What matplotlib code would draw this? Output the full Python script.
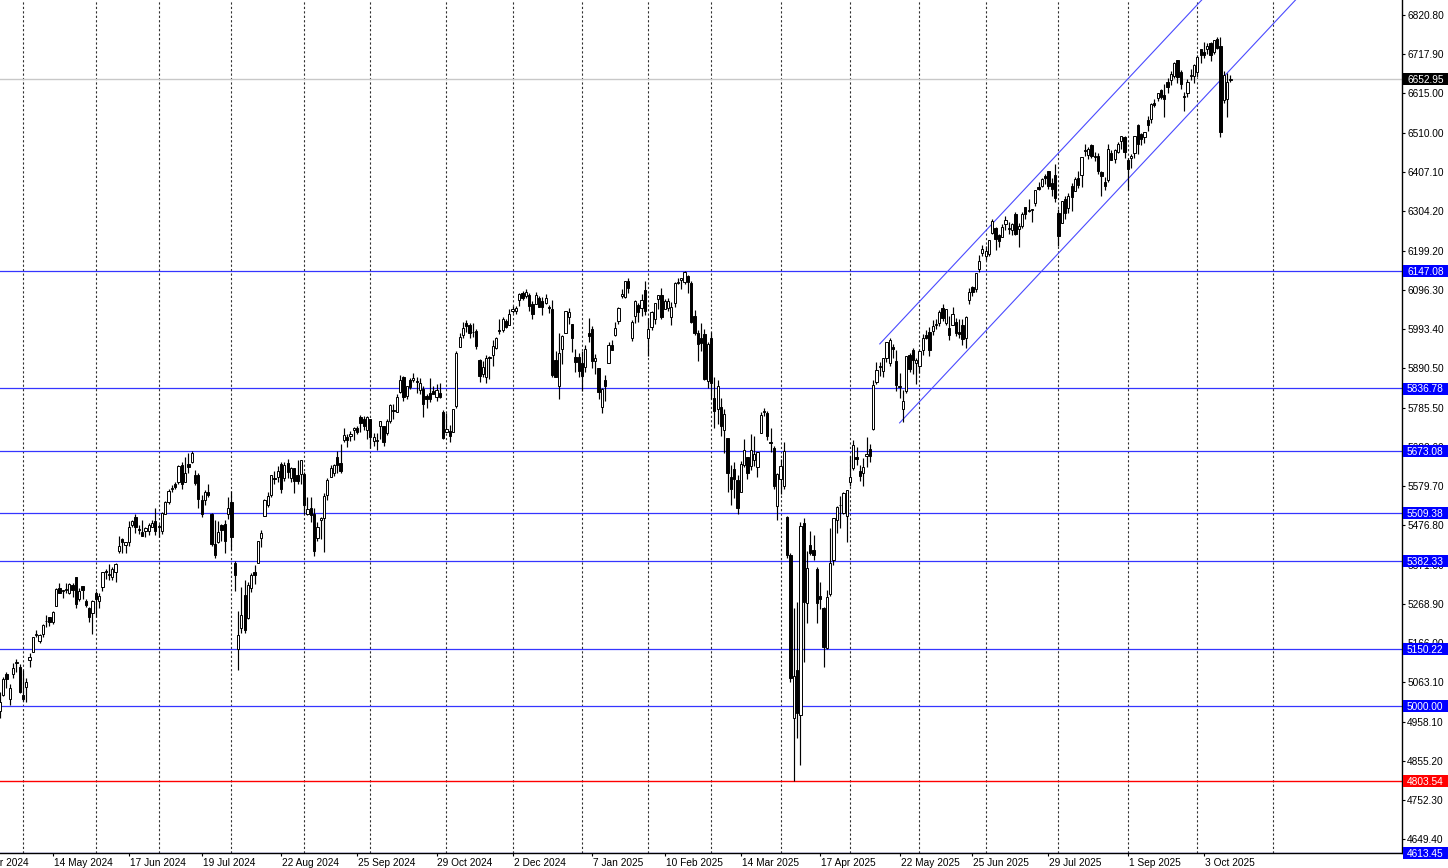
import numpy as np
import pandas as pd
import matplotlib
matplotlib.use('Agg')
import matplotlib.pyplot as plt
from matplotlib.patches import Rectangle
from matplotlib.transforms import blended_transform_factory

# exchange holidays (no bar on these days)
holidays = ['2024-05-27', '2024-06-19', '2024-07-04', '2024-09-02', '2024-11-28',
            '2024-12-25', '2025-01-01', '2025-01-09', '2025-01-20', '2025-02-17',
            '2025-04-18', '2025-05-26', '2025-06-19', '2025-07-04', '2025-09-01',
            '2025-11-27']
first_bar = '2024-04-19'

# daily OHLC, one line per month (Apr 2024 .. Oct 2025)
opens = [
    5005, 4988, 5028, 5084, 5019, 5084, 5114, 5103,
    5029, 5049, 5122, 5142, 5187, 5172, 5189, 5225, 5234, 5221, 5264, 5310, 5303, 5305, 5298, 5319, 5340, 5282, 5315, 5278, 5259, 5244,
    5297, 5278, 5314, 5357, 5344, 5341, 5354, 5409, 5441, 5424, 5432, 5476, 5499, 5466, 5459, 5460, 5460, 5473, 5488,
    5471, 5461, 5507, 5537, 5572, 5584, 5591, 5635, 5590, 5638, 5644, 5610, 5608, 5543, 5544, 5565, 5505, 5428, 5433, 5477, 5479, 5505,
    5537, 5376, 5151, 5206, 5293, 5232, 5312, 5352, 5376, 5442, 5500, 5530, 5557, 5602, 5603, 5637, 5602, 5640, 5602, 5626, 5608, 5612,
    5612, 5506, 5522, 5507, 5443, 5490, 5496, 5557, 5604, 5615, 5655, 5641, 5702, 5709, 5711, 5727, 5733, 5762, 5755, 5728,
    5757, 5698, 5698, 5738, 5737, 5719, 5751, 5778, 5775, 5828, 5866, 5817, 5860, 5859, 5857, 5832, 5835, 5817, 5826, 5829, 5815, 5825, 5776,
    5723, 5725, 5722, 5790, 5947, 5977, 6008, 6003, 5985, 5989, 5912, 5874, 5868, 5918, 5925, 5944, 5992, 5992, 6015, 6003,
    6040, 6042, 6069, 6089, 6081, 6084, 6058, 6060, 6074, 6068, 6063, 6052, 6047, 5912, 5842, 5940, 5984, 6024, 6006, 5920, 5920,
    5904, 5892, 5983, 5993, 5910, 5890, 5788, 5858, 5905, 5951, 5977, 6015, 6081, 6077, 6121, 5970, 6027, 6057, 6050, 6097,
    5970, 5999, 6020, 6072, 6083, 6047, 6049, 6025, 6061, 6115, 6122, 6118, 6134, 6115, 6027, 5983, 5971, 5981, 5857,
    5969, 5812, 5782, 5788, 5726, 5706, 5603, 5624, 5595, 5563, 5635, 5655, 5632, 5647, 5630, 5719, 5776, 5771, 5695, 5679, 5527,
    5597, 5581, 5498, 5398, 4968, 5095, 4976, 5482, 5271, 5424, 5411, 5362, 5290, 5258, 5153, 5295, 5385, 5489, 5529, 5508, 5500,
    5590, 5627, 5655, 5620, 5613, 5660, 5677, 5730, 5855, 5895, 5883, 5916, 5903, 5945, 5910, 5841, 5782, 5830, 5926, 5938, 5903,
    5897, 5939, 5978, 5985, 5987, 6005, 6010, 6050, 6010, 5997, 6005, 6013, 5985, 6004, 5970, 6069, 6104, 6099, 6151, 6194,
    6187, 6192, 6247, 6259, 6240, 6237, 6269, 6256, 6255, 6296, 6258, 6264, 6316, 6305, 6307, 6326, 6368, 6371, 6397, 6409, 6379, 6400,
    6300, 6272, 6336, 6312, 6369, 6358, 6390, 6398, 6462, 6453, 6478, 6446, 6450, 6406, 6380, 6386, 6457, 6441, 6461, 6489, 6499,
    6440, 6445, 6456, 6530, 6506, 6498, 6545, 6546, 6588, 6602, 6623, 6609, 6643, 6649, 6660, 6701, 6670, 6607, 6614, 6661, 6661,
    6670, 6731, 6722, 6730, 6747, 6724, 6758, 6740, 6597, 6600, 6650,
]
highs = [
    5019, 5038, 5076, 5089, 5057, 5114, 5123, 5110,
    5096, 5073, 5140, 5181, 5200, 5191, 5215, 5240, 5234, 5251, 5311, 5325, 5305, 5325, 5324, 5323, 5341, 5311, 5316, 5283, 5260, 5280,
    5302, 5298, 5354, 5362, 5375, 5366, 5376, 5447, 5442, 5432, 5488, 5490, 5505, 5478, 5490, 5472, 5483, 5490, 5523,
    5479, 5510, 5539, 5571, 5583, 5590, 5635, 5642, 5656, 5667, 5673, 5623, 5614, 5557, 5570, 5586, 5508, 5491, 5488, 5479, 5489, 5551,
    5567, 5383, 5250, 5313, 5331, 5326, 5351, 5371, 5436, 5464, 5546, 5563, 5608, 5620, 5633, 5643, 5642, 5652, 5631, 5627, 5647, 5648,
    5616, 5552, 5550, 5523, 5484, 5497, 5561, 5600, 5636, 5637, 5671, 5690, 5733, 5716, 5725, 5736, 5739, 5767, 5764, 5765,
    5757, 5720, 5719, 5752, 5739, 5757, 5796, 5796, 5822, 5871, 5870, 5843, 5863, 5878, 5866, 5863, 5842, 5822, 5863, 5842, 5848, 5850, 5781,
    5772, 5741, 5783, 5936, 5983, 6012, 6018, 6010, 6009, 5993, 5915, 5909, 5925, 5921, 5964, 5972, 6021, 6026, 6021, 6045,
    6053, 6053, 6087, 6093, 6100, 6089, 6068, 6092, 6080, 6079, 6085, 6057, 6071, 5935, 5982, 5978, 6041, 6049, 6007, 5941, 5930,
    5936, 5950, 6022, 6001, 5928, 5891, 5838, 5872, 5960, 5964, 6012, 6052, 6100, 6119, 6128, 6017, 6070, 6062, 6086, 6121,
    6022, 6042, 6062, 6084, 6101, 6073, 6076, 6064, 6116, 6128, 6129, 6147, 6136, 6120, 6043, 5992, 6010, 5994, 5959,
    5986, 5866, 5860, 5812, 5783, 5706, 5636, 5642, 5610, 5645, 5704, 5655, 5716, 5711, 5670, 5775, 5786, 5777, 5732, 5685, 5615,
    5651, 5695, 5500, 5403, 5258, 5274, 5486, 5495, 5409, 5460, 5450, 5367, 5328, 5262, 5307, 5470, 5495, 5528, 5553, 5563, 5569,
    5659, 5700, 5683, 5635, 5654, 5708, 5691, 5860, 5907, 5906, 5917, 5958, 5969, 5954, 5938, 5878, 5833, 5922, 5930, 5943, 5916,
    5939, 5981, 5990, 5999, 6017, 6021, 6044, 6060, 6045, 6027, 6051, 6023, 6019, 6019, 6028, 6101, 6108, 6141, 6188, 6215,
    6211, 6227, 6284, 6262, 6243, 6270, 6291, 6275, 6274, 6302, 6274, 6301, 6316, 6336, 6310, 6360, 6381, 6390, 6401, 6409, 6390, 6428,
    6310, 6330, 6343, 6352, 6378, 6395, 6409, 6446, 6481, 6473, 6481, 6460, 6456, 6409, 6394, 6482, 6466, 6469, 6487, 6503, 6501,
    6445, 6455, 6502, 6533, 6510, 6513, 6555, 6590, 6600, 6616, 6627, 6638, 6656, 6672, 6697, 6702, 6676, 6619, 6653, 6679, 6691,
    6715, 6731, 6750, 6747, 6749, 6754, 6764, 6764, 6672, 6668, 6662,
]
lows = [
    4954, 4969, 5027, 5047, 5002, 5073, 5089, 5035,
    5013, 5011, 5102, 5142, 5181, 5165, 5181, 5209, 5211, 5215, 5263, 5297, 5284, 5299, 5296, 5287, 5257, 5278, 5281, 5262, 5222, 5191,
    5234, 5257, 5304, 5335, 5331, 5331, 5327, 5404, 5403, 5403, 5421, 5471, 5455, 5452, 5447, 5446, 5451, 5471, 5451,
    5446, 5453, 5507, 5531, 5563, 5571, 5586, 5572, 5590, 5615, 5640, 5583, 5522, 5497, 5529, 5551, 5422, 5391, 5430, 5434, 5403, 5494,
    5410, 5302, 5095, 5193, 5192, 5228, 5301, 5322, 5376, 5420, 5500, 5525, 5551, 5585, 5591, 5561, 5594, 5602, 5591, 5561, 5586, 5586,
    5507, 5503, 5486, 5395, 5435, 5441, 5407, 5544, 5603, 5605, 5615, 5615, 5696, 5683, 5698, 5702, 5716, 5721, 5727, 5703,
    5681, 5684, 5675, 5703, 5686, 5714, 5745, 5756, 5775, 5825, 5804, 5808, 5836, 5853, 5824, 5822, 5762, 5784, 5800, 5823, 5803, 5812, 5703,
    5723, 5696, 5722, 5785, 5947, 5971, 5986, 5969, 5973, 5942, 5853, 5866, 5850, 5861, 5896, 5941, 5980, 5986, 5995, 6003,
    6035, 6033, 6054, 6070, 6076, 6040, 6021, 6060, 6051, 6030, 6059, 6035, 5867, 5866, 5810, 5902, 5983, 6007, 5932, 5879, 5867,
    5830, 5879, 5960, 5891, 5874, 5809, 5773, 5805, 5904, 5938, 5975, 6006, 6075, 6075, 6089, 5962, 6008, 6012, 6027, 6030,
    5923, 5990, 6007, 6047, 6020, 6046, 6042, 6004, 6051, 6111, 6100, 6111, 6089, 6008, 5978, 5909, 5936, 5858, 5837,
    5810, 5733, 5742, 5711, 5667, 5565, 5529, 5547, 5505, 5563, 5629, 5598, 5621, 5632, 5603, 5719, 5765, 5700, 5670, 5572, 5489,
    5558, 5572, 5390, 5063, 4803, 4916, 4845, 5115, 5220, 5398, 5386, 5220, 5255, 5102, 5150, 5290, 5371, 5455, 5469, 5505, 5433,
    5580, 5622, 5636, 5593, 5579, 5630, 5644, 5727, 5849, 5869, 5868, 5907, 5896, 5917, 5830, 5811, 5749, 5825, 5880, 5875, 5848,
    5878, 5925, 5967, 5921, 5978, 5994, 6001, 6014, 6004, 5964, 6005, 5975, 5970, 5952, 5944, 6059, 6080, 6092, 6143, 6187,
    6176, 6187, 6245, 6201, 6209, 6237, 6253, 6245, 6240, 6241, 6210, 6260, 6283, 6303, 6276, 6318, 6360, 6368, 6376, 6361, 6343, 6327,
    6212, 6272, 6283, 6300, 6305, 6357, 6365, 6368, 6448, 6441, 6445, 6437, 6403, 6344, 6360, 6381, 6438, 6431, 6458, 6469, 6443,
    6360, 6418, 6445, 6454, 6479, 6483, 6515, 6535, 6579, 6595, 6600, 6551, 6616, 6637, 6656, 6642, 6626, 6569, 6604, 6650, 6642,
    6658, 6695, 6707, 6717, 6699, 6718, 6731, 6500, 6590, 6552, 6643,
]
closes = [
    4967, 5011, 5071, 5072, 5048, 5100, 5116, 5036,
    5018, 5064, 5128, 5181, 5187, 5188, 5214, 5223, 5221, 5247, 5308, 5297, 5303, 5308, 5321, 5307, 5268, 5304, 5306, 5266, 5235, 5277,
    5283, 5291, 5354, 5352, 5347, 5360, 5375, 5421, 5433, 5431, 5473, 5487, 5473, 5464, 5447, 5469, 5478, 5482, 5460,
    5475, 5509, 5537, 5567, 5572, 5576, 5633, 5584, 5615, 5631, 5667, 5588, 5545, 5505, 5564, 5555, 5427, 5399, 5459, 5463, 5436, 5522,
    5446, 5346, 5186, 5240, 5199, 5319, 5344, 5344, 5434, 5455, 5543, 5554, 5608, 5597, 5620, 5571, 5635, 5616, 5626, 5592, 5592, 5648,
    5529, 5520, 5503, 5408, 5471, 5496, 5554, 5596, 5626, 5634, 5635, 5618, 5714, 5702, 5718, 5732, 5722, 5745, 5738, 5762,
    5709, 5709, 5700, 5751, 5696, 5751, 5792, 5780, 5815, 5859, 5815, 5842, 5841, 5864, 5853, 5851, 5797, 5809, 5808, 5823, 5832, 5813, 5705,
    5729, 5712, 5782, 5929, 5973, 5996, 6001, 5984, 5985, 5949, 5870, 5893, 5917, 5917, 5949, 5969, 5987, 6021, 5999, 6032,
    6047, 6050, 6086, 6075, 6090, 6053, 6034, 6084, 6051, 6051, 6074, 6050, 5872, 5867, 5930, 5975, 6040, 6037, 5971, 5907, 5882,
    5869, 5942, 5975, 5909, 5918, 5827, 5836, 5843, 5950, 5937, 5997, 6049, 6086, 6119, 6101, 6012, 6068, 6039, 6071, 6041,
    5994, 6037, 6061, 6083, 6026, 6066, 6068, 6051, 6115, 6115, 6129, 6144, 6117, 6013, 5983, 5955, 5956, 5861, 5955,
    5850, 5778, 5842, 5739, 5770, 5615, 5572, 5599, 5521, 5639, 5675, 5615, 5675, 5663, 5668, 5768, 5777, 5712, 5693, 5581, 5612,
    5633, 5671, 5397, 5074, 5080, 4981, 5475, 5274, 5364, 5403, 5397, 5272, 5283, 5155, 5287, 5376, 5495, 5525, 5529, 5561, 5569,
    5604, 5687, 5650, 5607, 5631, 5664, 5660, 5845, 5886, 5892, 5916, 5958, 5964, 5941, 5845, 5842, 5803, 5922, 5889, 5912, 5912,
    5936, 5970, 5971, 5939, 6000, 6006, 6038, 6022, 6045, 5977, 6033, 5982, 5981, 5968, 6025, 6092, 6092, 6141, 6173, 6205,
    6198, 6227, 6279, 6230, 6226, 6263, 6280, 6260, 6269, 6244, 6264, 6297, 6297, 6306, 6309, 6359, 6363, 6389, 6390, 6371, 6362, 6339,
    6238, 6330, 6299, 6345, 6340, 6389, 6374, 6446, 6466, 6469, 6450, 6449, 6411, 6396, 6370, 6467, 6439, 6465, 6481, 6502, 6460,
    6416, 6448, 6502, 6482, 6495, 6512, 6532, 6587, 6584, 6615, 6606, 6600, 6632, 6664, 6693, 6657, 6638, 6605, 6644, 6661, 6688,
    6711, 6715, 6716, 6740, 6715, 6754, 6735, 6513, 6662, 6645, 6653,
]

# horizontal levels drawn on the chart
blue_levels = [6147.08, 5836.78, 5673.08, 5509.38, 5382.33, 5150.22, 5000.00, 4613.45]
red_level = 4803.54
last_price = 6652.95

# rising channel: lower line through two points, upper line parallel
channel_dates = ['2025-05-22', '2025-10-01']
channel_prices = [5746, 6584]
channel_width = 264
upper_start = '2025-05-14'

price_ticks = [6820.80, 6717.90, 6615.00, 6510.00, 6407.10, 6304.20, 6199.20, 6096.30,
               5993.40, 5890.50, 5785.50, 5682.60, 5579.70, 5476.80, 5371.80, 5268.90,
               5166.00, 5063.10, 4958.10, 4855.20, 4752.30, 4649.40]
date_labels = ['10 Apr 2024', '14 May 2024', '17 Jun 2024', '19 Jul 2024', '22 Aug 2024',
               '25 Sep 2024', '29 Oct 2024', '2 Dec 2024', '7 Jan 2025', '10 Feb 2025',
               '14 Mar 2025', '17 Apr 2025', '22 May 2025', '25 Jun 2025', '29 Jul 2025',
               '1 Sep 2025', '3 Oct 2025']

W, H = 1448, 868
AX_W, AX_H = 1402, 853
BAR_PX = 3.308
YMIN, YMAX = 4612.7, 6860.3
FS = 7.3

plt.rcParams['font.family'] = ['Liberation Sans', 'DejaVu Sans']

days = pd.bdate_range('2024-04-01', '2025-12-31', freq='C', holidays=holidays)


def pos(d):
    # bar index of a date; a non-trading date falls on the next bar
    return days.get_indexer(pd.to_datetime(d), method='bfill')


def draw_candles(ax):
    o, h, l, c = (np.array(a, dtype=float) for a in (opens, highs, lows, closes))
    start = pos([first_bar])[0]
    x = np.arange(start, start + len(c))
    ax.vlines(x, l, h, color='black', linewidth=0.85, zorder=3)
    bottom = np.minimum(o, c)
    height = np.maximum(np.abs(c - o), 1.5)
    up = c >= o
    ax.bar(x[up], height[up], bottom=bottom[up], width=0.68, color='white',
           edgecolor='black', linewidth=0.7, zorder=4)
    ax.bar(x[~up], height[~up], bottom=bottom[~up], width=0.68, color='black',
           edgecolor='black', linewidth=0.7, zorder=4)


def price_tag(fig, ax, price, face):
    tr = blended_transform_factory(fig.transFigure, ax.transData)
    ppx = (YMAX - YMIN) / AX_H
    ax.add_patch(Rectangle((1403 / W, price - 6.2 * ppx), 45 / W, 12 * ppx, transform=tr,
                           facecolor=face, edgecolor='none', clip_on=False, zorder=8))
    ax.text(1407 / W, price, f'{price:.2f}', transform=tr, color='white', fontsize=FS,
            ha='left', va='center_baseline', clip_on=False, zorder=9)


fig = plt.figure(figsize=(W / 100, H / 100), dpi=100)
ax = fig.add_axes([0, (H - AX_H) / H, AX_W / W, AX_H / H])

may1 = pos(['2024-05-01'])[0]
left = may1 - 23 / BAR_PX
ax.set_xlim(left, left + AX_W / BAR_PX)
ax.set_ylim(YMIN, YMAX)

# month separators
month_first = pd.Series(days, index=days).groupby(days.to_period('M')).first()
for d in month_first[(month_first >= '2024-05-01') & (month_first <= '2025-11-30')]:
    ax.axvline(pos([d])[0], color='#303030', linewidth=0.8, linestyle=(0, (2, 2)), zorder=1)

# levels
ax.axhline(last_price, color='#c8c8c8', linewidth=1.0, zorder=2)
for lv in blue_levels:
    ax.axhline(lv, color='#3535ff', linewidth=0.9, zorder=2)
ax.axhline(red_level, color='#ff0000', linewidth=1.0, zorder=2)

# channel
cx = pos(channel_dates)
slope = (channel_prices[1] - channel_prices[0]) / (cx[1] - cx[0])
x_end = left + AX_W / BAR_PX + 50
ax.plot([cx[0], x_end], [channel_prices[0], channel_prices[0] + slope * (x_end - cx[0])],
        color='#4a4aff', linewidth=0.8, zorder=2)
ux = pos([upper_start])[0]
u0 = channel_prices[0] + slope * (ux - cx[0]) + channel_width
ax.plot([ux, x_end], [u0, u0 + slope * (x_end - ux)], color='#4a4aff', linewidth=0.8, zorder=2)

draw_candles(ax)

# axes styling
for side in ['top', 'left']:
    ax.spines[side].set_visible(False)
ax.spines['right'].set_linewidth(1.0)
ax.spines['bottom'].set_linewidth(1.0)
ax.yaxis.tick_right()
ax.set_yticks(price_ticks)
ax.set_yticklabels([f'{p:.2f}' for p in price_ticks])
ax.tick_params(axis='y', length=2.2, width=0.8, pad=1.5, labelsize=FS, colors='black')

label_x = pos(pd.to_datetime(date_labels, format='%d %b %Y'))
ax.set_xticks([p for p in label_x if p > left])
ax.tick_params(axis='x', length=2.2, width=0.8, labelbottom=False, colors='black')
trx = blended_transform_factory(ax.transData, ax.transAxes)
for p, lab in zip(label_x, date_labels):
    ax.text(p + 0.3, -10 / AX_H, lab, transform=trx, fontsize=FS, ha='left',
            va='center', clip_on=False)

for lv in blue_levels:
    price_tag(fig, ax, lv, '#0000ff')
price_tag(fig, ax, red_level, '#ff0000')
price_tag(fig, ax, last_price, '#000000')

fig.savefig('out.png', dpi=100)
